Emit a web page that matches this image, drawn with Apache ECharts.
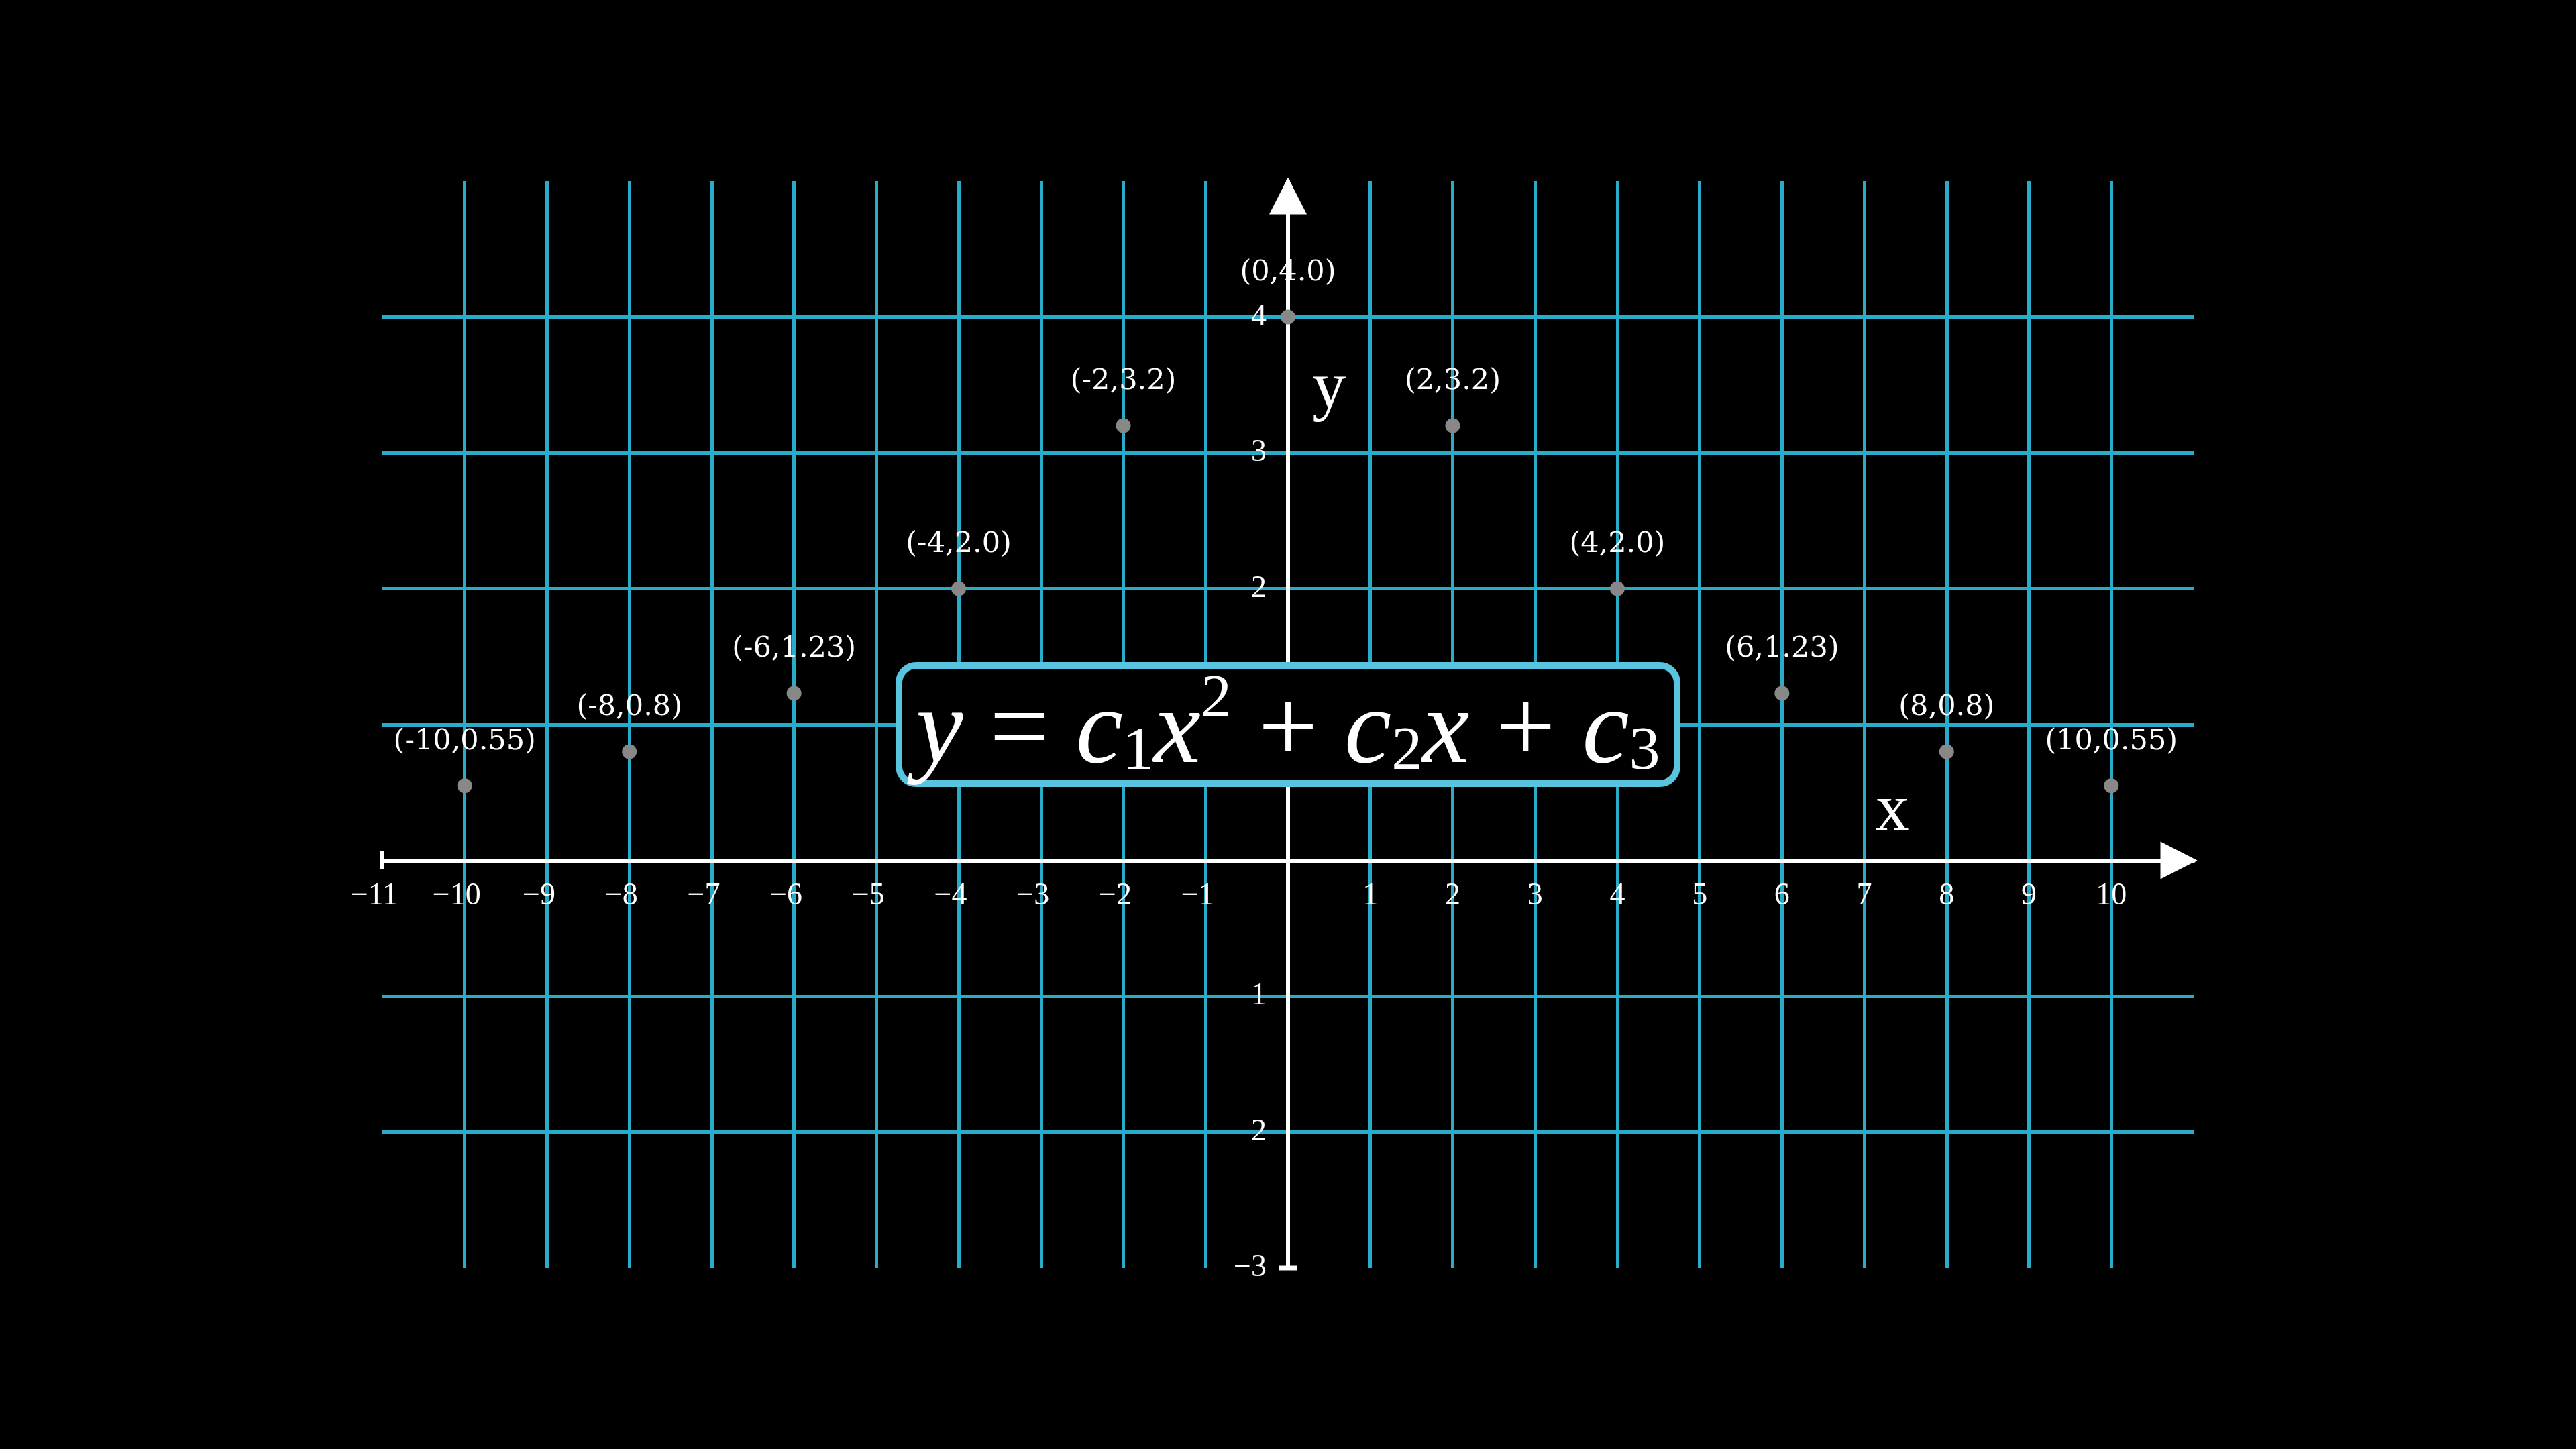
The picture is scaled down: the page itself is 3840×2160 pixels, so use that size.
<!DOCTYPE html>
<html>
<head>
<meta charset="utf-8">
<script src="https://cdn.jsdelivr.net/npm/echarts@6/dist/echarts.min.js"></script>
<style>
html,body{margin:0;padding:0;background:#000;}
#main{width:3840px;height:2160px;}
</style>
</head>
<body>
<div id="main"></div>
<script>
// ---- data ----
const pointX = [-10, -8, -6, -4, -2, 0, 2, 4, 6, 8, 10];
const pointY = [0.55, 0.8, 1.23, 2.0, 3.2, 4.0, 3.2, 2.0, 1.23, 0.8, 0.55];
const pointLabels = ['(-10,0.55)', '(-8,0.8)', '(-6,1.23)', '(-4,2.0)', '(-2,3.2)', '(0,4.0)',
                     '(2,3.2)', '(4,2.0)', '(6,1.23)', '(8,0.8)', '(10,0.55)'];
const xRange = [-11, 11];
const yRange = [-3, 5];
const xTickValues = [-11, -10, -9, -8, -7, -6, -5, -4, -3, -2, -1, 1, 2, 3, 4, 5, 6, 7, 8, 9, 10];
const xTickLabels = ['\u221211', '\u221210', '\u22129', '\u22128', '\u22127', '\u22126', '\u22125', '\u22124', '\u22123', '\u22122', '\u22121',
                     '1', '2', '3', '4', '5', '6', '7', '8', '9', '10'];
const yTickValues = [-3, -2, -1, 1, 2, 3, 4];
const yTickLabels = ['\u22123', '2', '1', '1', '2', '3', '4'];
const xAxisName = 'x';
const yAxisName = 'y';
const formulaAnchor = [0, 1];
const xNameAnchor = [7.34, 0.30];
const yNameAnchor = [0.50, 3.35];

// ---- styles ----
const GRID_BLUE = '#29ABCA';
const BOX_BLUE = '#58C4DD';
const WHITE = '#FFFFFF';
const POINT_GREY = '#888888';
const SERIF = '"Liberation Serif", "DejaVu Serif", serif';

const chart = echarts.init(document.getElementById('main'), null, {renderer: 'canvas'});

function axisLineStyle() {
  return {
    show: true, onZero: false,
    symbol: ['none', 'triangle'], symbolSize: [56, 55], symbolOffset: [0, -22],
    lineStyle: {color: WHITE, width: 6}
  };
}

const option = {
  backgroundColor: '#000000',
  animation: false,
  grid: {left: 570, right: 570, top: 270, bottom: 270, containLabel: false, outerBoundsMode: 'none'},
  xAxis: {
    type: 'value', min: xRange[0], max: xRange[1], interval: 1, position: 'bottom', offset: 0,
    axisLine: axisLineStyle(),
    axisTick: {show: false},
    splitLine: {show: true, showMinLine: false, showMaxLine: false, lineStyle: {color: GRID_BLUE, width: 5}},
    axisLabel: {
      show: true, margin: 30, color: WHITE, fontFamily: SERIF, fontSize: 46,
      showMinLabel: true, showMaxLabel: true,
      formatter: function (v) {
        const i = xTickValues.indexOf(Math.round(v));
        if (i < 0 || Math.abs(v - Math.round(v)) > 1e-6) return '';
        return v < 0 ? '{neg|' + xTickLabels[i] + '}' : xTickLabels[i];
      },
      rich: {neg: {padding: [0, 24, 0, 0], color: WHITE, fontFamily: SERIF, fontSize: 46}}
    }
  },
  yAxis: {
    type: 'value', min: yRange[0], max: yRange[1], interval: 1, position: 'left', offset: 0,
    axisLine: axisLineStyle(),
    axisTick: {show: false},
    splitLine: {show: true, showMinLine: false, showMaxLine: false, lineStyle: {color: GRID_BLUE, width: 5}},
    axisLabel: {
      show: true, margin: 32, color: WHITE, fontFamily: SERIF, fontSize: 46,
      showMinLabel: true, showMaxLabel: true,
      formatter: function (v) {
        const i = yTickValues.indexOf(Math.round(v));
        if (i < 0 || Math.abs(v - Math.round(v)) > 1e-6) return '';
        return yTickLabels[i];
      }
    }
  },
  series: [
    {
      name: 'axis ends',
      type: 'scatter',
      silent: true,
      symbol: 'rect',
      itemStyle: {color: WHITE, opacity: 1},
      data: [
        {value: [xRange[0], 0], symbolSize: [6, 27]},
        {value: [0, yRange[0]], symbolSize: [27, 7]}
      ],
      z: 3
    },
    {
      name: 'points',
      type: 'scatter',
      symbol: 'circle',
      symbolSize: 22,
      itemStyle: {color: POINT_GREY, opacity: 1},
      label: {
        show: true, position: 'top', distance: 33,
        color: WHITE, fontFamily: '"DejaVu Serif", serif', fontSize: 43,
        formatter: function (p) { return pointLabels[p.dataIndex]; }
      },
      data: pointX.map(function (x, i) { return [x, pointY[i]]; }),
      z: 4
    }
  ]
};
chart.setOption(option);

// move the axes so they cross at the origin (labels travel with them)
const origin = chart.convertToPixel({gridIndex: 0}, [0, 0]);
const bottomLeft = chart.convertToPixel({gridIndex: 0}, [xRange[0], yRange[0]]);
chart.setOption({
  xAxis: {offset: origin[1] - bottomLeft[1]},
  yAxis: {offset: bottomLeft[0] - origin[0]}
});

const c = chart.convertToPixel({gridIndex: 0}, formulaAnchor);
const xn = chart.convertToPixel({gridIndex: 0}, xNameAnchor);
const yn = chart.convertToPixel({gridIndex: 0}, yNameAnchor);
const boxW = 1160, boxH = 176;

chart.setOption({
  graphic: [
    {
      type: 'rect', z: 100,
      shape: {x: c[0] - boxW / 2, y: c[1] - boxH / 2, width: boxW, height: boxH, r: 26},
      style: {fill: '#000000', stroke: BOX_BLUE, lineWidth: 10}
    },
    {
      type: 'text', z: 101, x: c[0], y: c[1] + 14,
      style: {
        text: '{i|y}{n| = }{i|c}{s|1}{i|x}{p|2}{n| + }{i|c}{s|2}{i|x}{n| + }{i|c}{s|3}',
        align: 'center', verticalAlign: 'middle',
        rich: {
          i: {fill: WHITE, fontFamily: SERIF, fontStyle: 'italic', fontSize: 158, lineHeight: 200},
          n: {fill: WHITE, fontFamily: SERIF, fontSize: 158, lineHeight: 200},
          s: {fill: WHITE, fontFamily: SERIF, fontSize: 92, padding: [0, 0, 26, 0], verticalAlign: 'bottom'},
          p: {fill: WHITE, fontFamily: SERIF, fontSize: 92, padding: [4, 0, 0, 0], verticalAlign: 'top'}
        }
      }
    },
    {
      type: 'text', z: 50, x: xn[0], y: xn[1] - 11,
      style: {text: xAxisName, fill: WHITE, fontFamily: SERIF, fontSize: 100, align: 'center', verticalAlign: 'middle'}
    },
    {
      type: 'text', z: 50, x: yn[0], y: yn[1] - 22,
      style: {text: yAxisName, fill: WHITE, fontFamily: SERIF, fontSize: 100, align: 'center', verticalAlign: 'middle'}
    }
  ]
});
</script>
</body>
</html>
